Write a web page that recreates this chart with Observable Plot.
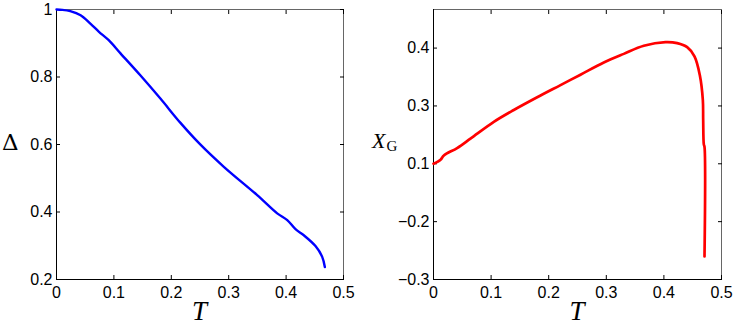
<!DOCTYPE html>
<html><head><meta charset="utf-8">
<script src="https://cdn.jsdelivr.net/npm/d3@7"></script>
<script src="https://cdn.jsdelivr.net/npm/@observablehq/plot@0.6"></script>
<style>
body{margin:0;background:#fff;}
#wrap{position:relative;width:736px;height:326px;overflow:hidden;background:#fff;}
#wrap svg{position:absolute;top:0;}
.lab{position:absolute;line-height:1;white-space:nowrap;color:#000;font-family:'Liberation Serif','Times New Roman',serif;}
</style></head><body><div id="wrap"></div>
<script>
// ---- data ----
const xTicks = [0, 0.1, 0.2, 0.3, 0.4, 0.5];
const xTickLabels = ["0", "0.1", "0.2", "0.3", "0.4", "0.5"];
const deltaTicks = [0.2, 0.4, 0.6, 0.8, 1];
const deltaTickLabels = ["0.2", "0.4", "0.6", "0.8", "1"];
const xgTicks = [-0.3, -0.2, 0.1, 0.3, 0.4];
const xgTickLabels = ["\u22120.3", "\u22120.2", "0.1", "0.3", "0.4"];
const xgDomainTop = 0.4667;

const deltaT = [0, 0.01, 0.024, 0.042, 0.059, 0.074, 0.091, 0.1115, 0.146, 0.181, 0.216, 0.25, 0.2915, 0.3496, 0.3845, 0.402, 0.4164, 0.4309, 0.4512, 0.4629, 0.4675];
const deltaV = [1, 0.999, 0.995, 0.983, 0.958, 0.934, 0.909, 0.870, 0.805, 0.736, 0.664, 0.601, 0.534, 0.450, 0.396, 0.376, 0.349, 0.331, 0.299, 0.267, 0.237];

const xgT = [0, 0.0122, 0.018, 0.041, 0.0642, 0.1047, 0.1394, 0.18, 0.2205, 0.2552, 0.2957, 0.3304, 0.3651, 0.4028, 0.423, 0.4404, 0.4531, 0.4624, 0.4676, 0.4682, 0.4693, 0.4705, 0.4705];
const xgV = [0.1, 0.114, 0.129, 0.1545, 0.187, 0.245, 0.286, 0.315, 0.336, 0.354, 0.375, 0.390, 0.404, 0.4103, 0.4086, 0.4017, 0.3858, 0.3532, 0.3103, 0.251, 0.167, 0.158, -0.26];

const deltaData = deltaT.map((t, i) => ({T: t, v: deltaV[i]}));
const xgData = xgT.map((t, i) => ({T: t, v: xgV[i]}));

// ---- layout ----
const W = 368, H = 326, MT = 9, MB = 47;
const tickFont = "'Liberation Sans', Arial, Helvetica, sans-serif";
const fmtX = d => xTickLabels[xTicks.indexOf(d)];

function axes(yTicks, yFmt) {
  return [
    Plot.axisX({anchor: "bottom", ticks: xTicks, tickFormat: fmtX, tickSize: -4, tickPadding: 11, label: null}),
    Plot.axisX({anchor: "top", ticks: xTicks, tickFormat: () => "", tickSize: -4, label: null}),
    Plot.axisY({anchor: "left", ticks: yTicks, tickFormat: yFmt, tickSize: -4, tickPadding: 8, label: null}),
    Plot.axisY({anchor: "right", ticks: yTicks, tickFormat: () => "", tickSize: -4, label: null})
  ];
}

const left = Plot.plot({
  width: W, height: H, marginLeft: 56, marginRight: 25, marginTop: MT, marginBottom: MB,
  style: {fontSize: "16px", fontFamily: tickFont, color: "#000", background: "transparent"},
  x: {domain: [0, 0.5]},
  y: {domain: [0.2, 1]},
  marks: [
    Plot.frame({stroke: "#666"}),
    Plot.ruleX([0], {stroke: "#000"}),
    Plot.ruleY([0.2], {stroke: "#000"}),
    ...axes(deltaTicks, d => deltaTickLabels[deltaTicks.indexOf(d)]),
    Plot.line(deltaData, {x: "T", y: "v", stroke: "#0000ff", strokeWidth: 2.4, curve: "catmull-rom"})
  ]
});

const bottomPx = H - MB, topPx = MT;
const fr = [0, 1, 2, 3, 4, 4.667].map(i => i / 4.667);
const right = Plot.plot({
  width: W, height: H, marginLeft: 65, marginRight: 15, marginTop: MT, marginBottom: MB,
  style: {fontSize: "16px", fontFamily: tickFont, color: "#000", background: "transparent"},
  x: {domain: [0, 0.5]},
  y: {type: "linear", domain: [...xgTicks, xgDomainTop], range: fr.map(f => bottomPx - f * (bottomPx - topPx))},
  marks: [
    Plot.frame({stroke: "#666"}),
    Plot.ruleX([0], {stroke: "#000"}),
    Plot.ruleY([-0.3], {stroke: "#000"}),
    ...axes(xgTicks, d => xgTickLabels[xgTicks.indexOf(d)]),
    Plot.line(xgData, {x: "T", y: "v", stroke: "#ff0000", strokeWidth: 2.7, curve: "catmull-rom"})
  ]
});

const wrap = document.getElementById("wrap");
left.style.left = "0px";
right.style.left = "368px";
wrap.appendChild(left);
wrap.appendChild(right);

function addLabel(html, x, y, css) {
  const d = document.createElement("div");
  d.className = "lab";
  d.innerHTML = html;
  d.style.left = x + "px";
  d.style.top = y + "px";
  Object.assign(d.style, css || {});
  wrap.appendChild(d);
  return d;
}
function centerT(plot, offset) {
  const xr = plot.scale("x").range;
  return offset + (xr[0] + xr[1]) / 2;
}
const tCss = {fontStyle: "italic", fontSize: "27px", transform: "translateX(-50%)"};
addLabel("T", centerT(left, 0), 298, tCss);
addLabel("T", centerT(right, 368), 298, tCss);
addLabel("\u0394", 2, 131, {fontFamily: "'DejaVu Serif', serif", fontSize: "23px"});
addLabel('<i>X</i><span style="font-size:15px;position:relative;top:3px;margin-left:1px">G</span>', 372, 130, {fontSize: "22px"});
</script></body></html>
